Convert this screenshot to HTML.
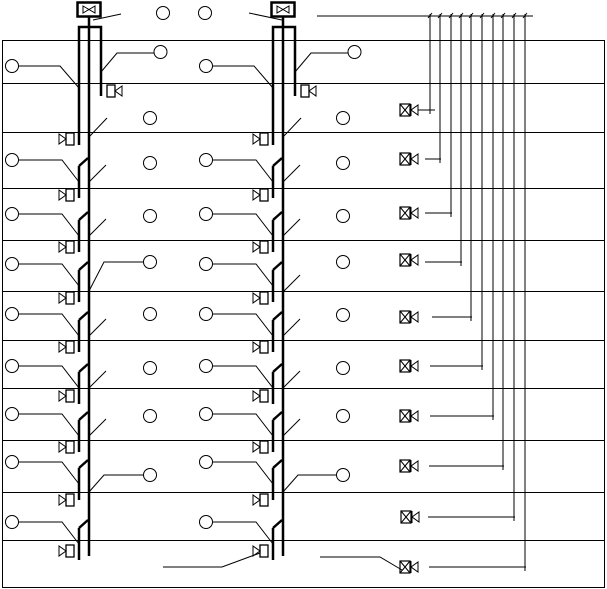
<!DOCTYPE html>
<html><head><meta charset="utf-8"><style>html,body{margin:0;padding:0;background:#fff}svg{display:block}</style></head>
<body>
<svg width="607" height="589" viewBox="0 0 607 589" xmlns="http://www.w3.org/2000/svg">
<defs>
<g id="dev"><polygon points="0,-5 7,0 0,5" fill="none" stroke="#000" stroke-width="1"/><rect x="7" y="-6" width="8" height="12" fill="none" stroke="#000" stroke-width="1.3"/></g>
<g id="band">
<path d="M79,34 L88,26" stroke="#000" stroke-width="2.5" fill="none"/>
<line x1="79" y1="34" x2="79" y2="66" stroke="#000" stroke-width="2.5"/>
<circle cx="12" cy="28" r="6.5" fill="none" stroke="#000" stroke-width="1"/>
<path d="M18.5,28 H62 L79,50" stroke="#000" stroke-width="1" fill="none"/>
</g>
<g id="rd"><path d="M89,50 L106,33" stroke="#000" stroke-width="1" fill="none"/></g>
<g id="xv"><rect x="0" y="-6" width="10" height="12" fill="none" stroke="#000" stroke-width="1.2"/><path d="M0,-6 L10,6 M10,-6 L0,6" stroke="#000" stroke-width="1"/><line x1="11" y1="-6" x2="11" y2="6" stroke="#000" stroke-width="1"/><polygon points="11,0 18,-5 18,5" fill="none" stroke="#000" stroke-width="1"/></g>
<g id="riser">
<rect x="77.5" y="2.5" width="23" height="14" fill="none" stroke="#000" stroke-width="2.5"/>
<path d="M83,6 L95,13 L95,6 L83,13 Z" fill="none" stroke="#000" stroke-width="1"/>
<line x1="89" y1="16" x2="89" y2="556" stroke="#000" stroke-width="2.5"/>
<path d="M79,145 V27 H101 V96" stroke="#000" stroke-width="2.5" fill="none"/>
<circle cx="12" cy="66" r="6.5" fill="none" stroke="#000" stroke-width="1"/>
<path d="M18.5,66 H60 L79,88" stroke="#000" stroke-width="1" fill="none"/>
<path d="M101,72 L117,53 H154" stroke="#000" stroke-width="1" fill="none"/>
<circle cx="160.5" cy="52" r="6.5" fill="none" stroke="#000" stroke-width="1"/>
<g transform="translate(107,91) scale(-1,1) translate(-15,0)"><use href="#dev"/></g>
<path d="M89,137 L107,118" stroke="#000" stroke-width="1" fill="none"/>
<use href="#dev" transform="translate(59,139)"/>
<g transform="translate(0,132)"><use href="#band"/><use href="#rd"/></g>
<use href="#dev" transform="translate(59,195)"/>
<g transform="translate(0,186)"><use href="#band"/><use href="#rd"/></g>
<use href="#dev" transform="translate(59,247)"/>
<g transform="translate(0,236)"><use href="#band"/></g>
<use href="#dev" transform="translate(59,298)"/>
<g transform="translate(0,286)"><use href="#band"/><use href="#rd"/></g>
<use href="#dev" transform="translate(59,347)"/>
<g transform="translate(0,338)"><use href="#band"/><use href="#rd"/></g>
<use href="#dev" transform="translate(59,396)"/>
<g transform="translate(0,386)"><use href="#band"/><use href="#rd"/></g>
<use href="#dev" transform="translate(59,447)"/>
<g transform="translate(0,434)"><use href="#band"/></g>
<use href="#dev" transform="translate(59,500)"/>
<g transform="translate(0,494)"><use href="#band"/></g>
<use href="#dev" transform="translate(59,551)"/>
</g>
</defs>
<g fill="none" stroke="#000" stroke-width="1">
<rect x="2.5" y="40.5" width="602" height="547"/>
<line x1="2" y1="83.5" x2="605" y2="83.5"/>
<line x1="2" y1="132.5" x2="605" y2="132.5"/>
<line x1="2" y1="188.5" x2="605" y2="188.5"/>
<line x1="2" y1="240.5" x2="605" y2="240.5"/>
<line x1="2" y1="291.5" x2="605" y2="291.5"/>
<line x1="2" y1="340.5" x2="605" y2="340.5"/>
<line x1="2" y1="388.5" x2="605" y2="388.5"/>
<line x1="2" y1="440.5" x2="605" y2="440.5"/>
<line x1="2" y1="492.5" x2="605" y2="492.5"/>
<line x1="2" y1="540.5" x2="605" y2="540.5"/>
</g>
<use href="#riser"/>
<use href="#riser" transform="translate(194,0)"/>
<g fill="none" stroke="#000" stroke-width="1">
<path d="M89,291 L104,262 H143.5"/>
<path d="M89,492 L104,475 H143.5"/>
<path d="M283,292 L300,275"/>
<path d="M283,492 L298,475 H336.5"/>
<path d="M93,20 L121,14"/>
<path d="M249,13 L282,20"/>
<line x1="317" y1="16" x2="533" y2="16"/>
<circle cx="163" cy="13" r="6.5"/><circle cx="205" cy="13" r="6.5"/>
<circle cx="150" cy="118" r="6.5"/><circle cx="150" cy="163" r="6.5"/><circle cx="150" cy="216" r="6.5"/><circle cx="150" cy="262" r="6.5"/><circle cx="150" cy="314" r="6.5"/><circle cx="150" cy="368" r="6.5"/><circle cx="150" cy="416" r="6.5"/><circle cx="150" cy="475" r="6.5"/>
<circle cx="343" cy="118" r="6.5"/><circle cx="343" cy="163" r="6.5"/><circle cx="343" cy="216" r="6.5"/><circle cx="343" cy="262" r="6.5"/><circle cx="343" cy="315" r="6.5"/><circle cx="343" cy="368" r="6.5"/><circle cx="343" cy="416" r="6.5"/><circle cx="343" cy="475" r="6.5"/>
<path d="M163,567 H222 L260,553"/>
<path d="M320,557 H380 L402,570"/>
<path d="M430,14 V110 M440,14 V159 M451,14 V213 M461,14 V262 M471,14 V317 M482,14 V366 M493,14 V416 M503,14 V466 M514,14 V517 M525,14 V567"/>
<path d="M428,18 L432,13 M438,18 L442,13 M449,18 L453,13 M459,18 L463,13 M469,18 L473,13 M480,18 L484,13 M491,18 L495,13 M501,18 L505,13 M512,18 L516,13 M523,18 L527,13"/>
<path d="M418,110 H435 M425,159 H441 M425,213 H452 M425,262 H462 M432,317 H472 M430,366 H483 M430,416 H494 M429,466 H504 M428,517 H515 M429,567 H526"/>
<path d="M430,106 V114 M440,155 V163 M451,209 V217 M461,258 V266 M471,313 V321 M482,362 V370 M493,412 V420 M503,462 V470 M514,513 V521 M525,563 V571"/>
</g>
<use href="#xv" transform="translate(400,110)"/>
<use href="#xv" transform="translate(400,159)"/>
<use href="#xv" transform="translate(400,213)"/>
<use href="#xv" transform="translate(400,260)"/>
<use href="#xv" transform="translate(400,317)"/>
<use href="#xv" transform="translate(400,366)"/>
<use href="#xv" transform="translate(400,416)"/>
<use href="#xv" transform="translate(400,466)"/>
<use href="#xv" transform="translate(401,517)"/>
<use href="#xv" transform="translate(400,567)"/>
</svg>
</body></html>
